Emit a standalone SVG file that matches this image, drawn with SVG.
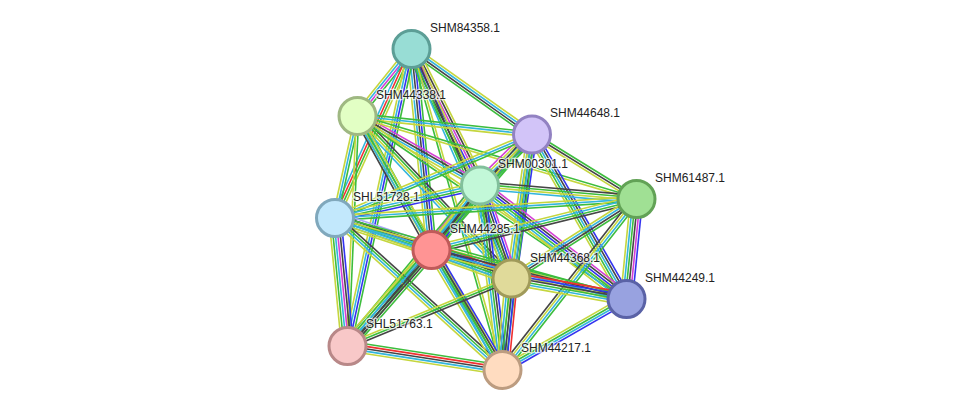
<svg xmlns="http://www.w3.org/2000/svg" width="976" height="415" viewBox="0 0 976 415">
<style>
#edges line{stroke-width:1.6;fill:none}
.n{stroke:#3dbd3d}.t{stroke:#c5d63e}.d{stroke:#33b5dd}.x{stroke:#454545}.e{stroke:#d540d5}.c{stroke:#3333f0}.f{stroke:#f03030}.h{stroke:#a8a8f8}
.node circle{stroke-width:3}
.node text{font-family:"Liberation Sans",Arial,sans-serif;font-size:12px;fill:#222;stroke:#fff;stroke-width:2.5;stroke-opacity:0.7;paint-order:stroke}
</style>
<rect width="976" height="415" fill="#fff"/>
<g id="edges">
<g transform="translate(411.5 49) rotate(128.87)"><line x2="86" y1="-3.6" y2="-3.6" class="n"/><line x2="86" y1="-1.2" y2="-1.2" class="e"/><line x2="86" y1="1.2" y2="1.2" class="d"/><line x2="86" y1="3.6" y2="3.6" class="t"/></g>
<g transform="translate(411.5 49) rotate(35.36)"><line x2="148" y1="-3.6" y2="-3.6" class="t"/><line x2="148" y1="-1.2" y2="-1.2" class="d"/><line x2="148" y1="1.2" y2="1.2" class="x"/><line x2="148" y1="3.6" y2="3.6" class="n"/></g>
<g transform="translate(411.5 49) rotate(63.35)"><line x2="153" y1="-6" y2="-6" class="t"/><line x2="153" y1="-3.6" y2="-3.6" class="x"/><line x2="153" y1="-1.2" y2="-1.2" class="e"/><line x2="153" y1="1.2" y2="1.2" class="c"/><line x2="153" y1="3.6" y2="3.6" class="x"/><line x2="153" y1="6" y2="6" class="n"/></g>
<g transform="translate(411.5 49) rotate(114.35)"><line x2="186" y1="-3.6" y2="-3.6" class="t"/><line x2="186" y1="-1.2" y2="-1.2" class="n"/><line x2="186" y1="1.2" y2="1.2" class="f"/><line x2="186" y1="3.6" y2="3.6" class="d"/></g>
<g transform="translate(411.5 49) rotate(84.32)"><line x2="202" y1="-4.8" y2="-4.8" class="n"/><line x2="202" y1="-2.4" y2="-2.4" class="c"/><line x2="202" y1="0" y2="0" class="x"/><line x2="202" y1="2.4" y2="2.4" class="d"/><line x2="202" y1="4.8" y2="4.8" class="t"/></g>
<g transform="translate(411.5 49) rotate(66.46)"><line x2="250" y1="-3.6" y2="-3.6" class="t"/><line x2="250" y1="-1.2" y2="-1.2" class="x"/><line x2="250" y1="1.2" y2="1.2" class="n"/><line x2="250" y1="3.6" y2="3.6" class="d"/></g>
<g transform="translate(411.5 49) rotate(102.16)"><line x2="304" y1="-3.6" y2="-3.6" class="n"/><line x2="304" y1="-1.2" y2="-1.2" class="c"/><line x2="304" y1="1.2" y2="1.2" class="d"/><line x2="304" y1="3.6" y2="3.6" class="t"/></g>
<g transform="translate(411.5 49) rotate(74.17)"><line x2="334" y1="-1.2" y2="-1.2" class="t"/><line x2="334" y1="1.2" y2="1.2" class="n"/></g>
<g transform="translate(357.5 116) rotate(6.05)"><line x2="175" y1="-2.4" y2="-2.4" class="n"/><line x2="175" y1="0" y2="0" class="d"/><line x2="175" y1="2.4" y2="2.4" class="t"/></g>
<g transform="translate(357.5 116) rotate(29.57)"><line x2="141" y1="-3.6" y2="-3.6" class="e"/><line x2="141" y1="-1.2" y2="-1.2" class="x"/><line x2="141" y1="1.2" y2="1.2" class="d"/><line x2="141" y1="3.6" y2="3.6" class="t"/></g>
<g transform="translate(357.5 116) rotate(16.57)"><line x2="291" y1="-1.2" y2="-1.2" class="n"/><line x2="291" y1="1.2" y2="1.2" class="t"/></g>
<g transform="translate(357.5 116) rotate(102.44)"><line x2="104" y1="-2.4" y2="-2.4" class="n"/><line x2="104" y1="0" y2="0" class="d"/><line x2="104" y1="2.4" y2="2.4" class="t"/></g>
<g transform="translate(357.5 116) rotate(61.09)"><line x2="153" y1="-3.6" y2="-3.6" class="n"/><line x2="153" y1="-1.2" y2="-1.2" class="d"/><line x2="153" y1="1.2" y2="1.2" class="t"/><line x2="153" y1="3.6" y2="3.6" class="x"/></g>
<g transform="translate(357.5 116) rotate(46.54)"><line x2="224" y1="-3.6" y2="-3.6" class="x"/><line x2="224" y1="-1.2" y2="-1.2" class="n"/><line x2="224" y1="1.2" y2="1.2" class="t"/><line x2="224" y1="3.6" y2="3.6" class="d"/></g>
<g transform="translate(357.5 116) rotate(34.23)"><line x2="325" y1="-1.2" y2="-1.2" class="t"/><line x2="325" y1="1.2" y2="1.2" class="n"/></g>
<g transform="translate(357.5 116) rotate(92.49)"><line x2="230" y1="-1.2" y2="-1.2" class="n"/><line x2="230" y1="1.2" y2="1.2" class="t"/></g>
<g transform="translate(357.5 116) rotate(60.28)"><line x2="292" y1="-2.4" y2="-2.4" class="t"/><line x2="292" y1="0" y2="0" class="n"/><line x2="292" y1="2.4" y2="2.4" class="d"/></g>
<g transform="translate(532 134.5) rotate(135.56)"><line x2="73" y1="-6" y2="-6" class="n"/><line x2="73" y1="-3.6" y2="-3.6" class="c"/><line x2="73" y1="-1.2" y2="-1.2" class="x"/><line x2="73" y1="1.2" y2="1.2" class="d"/><line x2="73" y1="3.6" y2="3.6" class="t"/><line x2="73" y1="6" y2="6" class="e"/></g>
<g transform="translate(532 134.5) rotate(31.68)"><line x2="123" y1="-2.4" y2="-2.4" class="n"/><line x2="123" y1="0" y2="0" class="x"/><line x2="123" y1="2.4" y2="2.4" class="t"/></g>
<g transform="translate(532 134.5) rotate(157.03)"><line x2="214" y1="-2.4" y2="-2.4" class="n"/><line x2="214" y1="0" y2="0" class="d"/><line x2="214" y1="2.4" y2="2.4" class="t"/></g>
<g transform="translate(532 134.5) rotate(131.03)"><line x2="153" y1="-3.6" y2="-3.6" class="n"/><line x2="153" y1="-1.2" y2="-1.2" class="d"/><line x2="153" y1="1.2" y2="1.2" class="t"/><line x2="153" y1="3.6" y2="3.6" class="x"/></g>
<g transform="translate(532 134.5) rotate(98.10)"><line x2="145" y1="-4.8" y2="-4.8" class="c"/><line x2="145" y1="-2.4" y2="-2.4" class="x"/><line x2="145" y1="0" y2="0" class="n"/><line x2="145" y1="2.4" y2="2.4" class="d"/><line x2="145" y1="4.8" y2="4.8" class="t"/></g>
<g transform="translate(532 134.5) rotate(60.12)"><line x2="190" y1="-4.8" y2="-4.8" class="c"/><line x2="190" y1="-2.4" y2="-2.4" class="x"/><line x2="190" y1="0" y2="0" class="d"/><line x2="190" y1="2.4" y2="2.4" class="n"/><line x2="190" y1="4.8" y2="4.8" class="t"/></g>
<g transform="translate(532 134.5) rotate(131.10)"><line x2="281" y1="-1.2" y2="-1.2" class="n"/><line x2="281" y1="1.2" y2="1.2" class="t"/></g>
<g transform="translate(532 134.5) rotate(97.14)"><line x2="237" y1="-2.4" y2="-2.4" class="n"/><line x2="237" y1="0" y2="0" class="d"/><line x2="237" y1="2.4" y2="2.4" class="t"/></g>
<g transform="translate(480 185.5) rotate(4.93)"><line x2="157" y1="-3.6" y2="-3.6" class="x"/><line x2="157" y1="-1.2" y2="-1.2" class="n"/><line x2="157" y1="1.2" y2="1.2" class="t"/><line x2="157" y1="3.6" y2="3.6" class="d"/></g>
<g transform="translate(480 185.5) rotate(167.37)"><line x2="149" y1="-3.6" y2="-3.6" class="c"/><line x2="149" y1="-1.2" y2="-1.2" class="n"/><line x2="149" y1="1.2" y2="1.2" class="d"/><line x2="149" y1="3.6" y2="3.6" class="t"/></g>
<g transform="translate(480 185.5) rotate(126.94)"><line x2="81" y1="-6" y2="-6" class="n"/><line x2="81" y1="-3.6" y2="-3.6" class="c"/><line x2="81" y1="-1.2" y2="-1.2" class="x"/><line x2="81" y1="1.2" y2="1.2" class="d"/><line x2="81" y1="3.6" y2="3.6" class="t"/><line x2="81" y1="6" y2="6" class="e"/></g>
<g transform="translate(480 185.5) rotate(71.29)"><line x2="98" y1="-6" y2="-6" class="e"/><line x2="98" y1="-3.6" y2="-3.6" class="c"/><line x2="98" y1="-1.2" y2="-1.2" class="x"/><line x2="98" y1="1.2" y2="1.2" class="n"/><line x2="98" y1="3.6" y2="3.6" class="d"/><line x2="98" y1="6" y2="6" class="t"/></g>
<g transform="translate(480 185.5) rotate(37.77)"><line x2="185" y1="-6" y2="-6" class="e"/><line x2="185" y1="-3.6" y2="-3.6" class="x"/><line x2="185" y1="-1.2" y2="-1.2" class="c"/><line x2="185" y1="1.2" y2="1.2" class="n"/><line x2="185" y1="3.6" y2="3.6" class="d"/><line x2="185" y1="6" y2="6" class="t"/></g>
<g transform="translate(480 185.5) rotate(129.55)"><line x2="208" y1="-4.8" y2="-4.8" class="n"/><line x2="208" y1="-2.4" y2="-2.4" class="x"/><line x2="208" y1="0" y2="0" class="d"/><line x2="208" y1="2.4" y2="2.4" class="t"/><line x2="208" y1="4.8" y2="4.8" class="n"/></g>
<g transform="translate(480 185.5) rotate(83.05)"><line x2="186" y1="-4.8" y2="-4.8" class="c"/><line x2="186" y1="-2.4" y2="-2.4" class="x"/><line x2="186" y1="0" y2="0" class="n"/><line x2="186" y1="2.4" y2="2.4" class="d"/><line x2="186" y1="4.8" y2="4.8" class="t"/></g>
<g transform="translate(636.5 199) rotate(176.39)"><line x2="302" y1="-2.4" y2="-2.4" class="n"/><line x2="302" y1="0" y2="0" class="d"/><line x2="302" y1="2.4" y2="2.4" class="t"/></g>
<g transform="translate(636.5 199) rotate(166.03)"><line x2="211" y1="-3.6" y2="-3.6" class="x"/><line x2="211" y1="-1.2" y2="-1.2" class="n"/><line x2="211" y1="1.2" y2="1.2" class="d"/><line x2="211" y1="3.6" y2="3.6" class="t"/></g>
<g transform="translate(636.5 199) rotate(147.54)"><line x2="148" y1="-3.6" y2="-3.6" class="n"/><line x2="148" y1="-1.2" y2="-1.2" class="x"/><line x2="148" y1="1.2" y2="1.2" class="d"/><line x2="148" y1="3.6" y2="3.6" class="t"/></g>
<g transform="translate(636.5 199) rotate(95.71)"><line x2="100" y1="-6" y2="-6" class="c"/><line x2="100" y1="-3.6" y2="-3.6" class="e"/><line x2="100" y1="-1.2" y2="-1.2" class="x"/><line x2="100" y1="1.2" y2="1.2" class="n"/><line x2="100" y1="3.6" y2="3.6" class="d"/><line x2="100" y1="6" y2="6" class="t"/></g>
<g transform="translate(636.5 199) rotate(128.08)"><line x2="217" y1="-3.6" y2="-3.6" class="n"/><line x2="217" y1="-1.2" y2="-1.2" class="d"/><line x2="217" y1="1.2" y2="1.2" class="t"/><line x2="217" y1="3.6" y2="3.6" class="x"/></g>
<g transform="translate(335 218) rotate(18.35)"><line x2="102" y1="-6" y2="-6" class="h"/><line x2="102" y1="-3.6" y2="-3.6" class="x"/><line x2="102" y1="-1.2" y2="-1.2" class="c"/><line x2="102" y1="1.2" y2="1.2" class="n"/><line x2="102" y1="3.6" y2="3.6" class="d"/><line x2="102" y1="6" y2="6" class="t"/></g>
<g transform="translate(335 218) rotate(18.92)"><line x2="187" y1="-3.6" y2="-3.6" class="x"/><line x2="187" y1="-1.2" y2="-1.2" class="n"/><line x2="187" y1="1.2" y2="1.2" class="d"/><line x2="187" y1="3.6" y2="3.6" class="t"/></g>
<g transform="translate(335 218) rotate(15.53)"><line x2="302" y1="-2.4" y2="-2.4" class="n"/><line x2="302" y1="0" y2="0" class="t"/><line x2="302" y1="2.4" y2="2.4" class="d"/></g>
<g transform="translate(335 218) rotate(84.42)"><line x2="129" y1="-6" y2="-6" class="c"/><line x2="129" y1="-3.6" y2="-3.6" class="x"/><line x2="129" y1="-1.2" y2="-1.2" class="e"/><line x2="129" y1="1.2" y2="1.2" class="d"/><line x2="129" y1="3.6" y2="3.6" class="n"/><line x2="129" y1="6" y2="6" class="t"/></g>
<g transform="translate(335 218) rotate(42.22)"><line x2="226" y1="-3.6" y2="-3.6" class="x"/><line x2="226" y1="-1.2" y2="-1.2" class="n"/><line x2="226" y1="1.2" y2="1.2" class="d"/><line x2="226" y1="3.6" y2="3.6" class="t"/></g>
<g transform="translate(431.5 250) rotate(19.61)"><line x2="85" y1="-6" y2="-6" class="f"/><line x2="85" y1="-3.6" y2="-3.6" class="c"/><line x2="85" y1="-1.2" y2="-1.2" class="x"/><line x2="85" y1="1.2" y2="1.2" class="n"/><line x2="85" y1="3.6" y2="3.6" class="d"/><line x2="85" y1="6" y2="6" class="t"/></g>
<g transform="translate(431.5 250) rotate(14.11)"><line x2="201" y1="-3.6" y2="-3.6" class="n"/><line x2="201" y1="-1.2" y2="-1.2" class="x"/><line x2="201" y1="1.2" y2="1.2" class="d"/><line x2="201" y1="3.6" y2="3.6" class="t"/></g>
<g transform="translate(431.5 250) rotate(131.19)"><line x2="128" y1="-6" y2="-6" class="n"/><line x2="128" y1="-3.6" y2="-3.6" class="x"/><line x2="128" y1="-1.2" y2="-1.2" class="x"/><line x2="128" y1="1.2" y2="1.2" class="d"/><line x2="128" y1="3.6" y2="3.6" class="n"/><line x2="128" y1="6" y2="6" class="t"/></g>
<g transform="translate(431.5 250) rotate(59.39)"><line x2="139" y1="-4.8" y2="-4.8" class="c"/><line x2="139" y1="-2.4" y2="-2.4" class="x"/><line x2="139" y1="0" y2="0" class="n"/><line x2="139" y1="2.4" y2="2.4" class="d"/><line x2="139" y1="4.8" y2="4.8" class="t"/></g>
<g transform="translate(511.5 278.5) rotate(10.11)"><line x2="117" y1="-6" y2="-6" class="f"/><line x2="117" y1="-3.6" y2="-3.6" class="c"/><line x2="117" y1="-1.2" y2="-1.2" class="x"/><line x2="117" y1="1.2" y2="1.2" class="n"/><line x2="117" y1="3.6" y2="3.6" class="d"/><line x2="117" y1="6" y2="6" class="t"/></g>
<g transform="translate(511.5 278.5) rotate(157.63)"><line x2="177" y1="-2.4" y2="-2.4" class="x"/><line x2="177" y1="0" y2="0" class="n"/><line x2="177" y1="2.4" y2="2.4" class="t"/></g>
<g transform="translate(511.5 278.5) rotate(95.62)"><line x2="92" y1="-6" y2="-6" class="f"/><line x2="92" y1="-3.6" y2="-3.6" class="c"/><line x2="92" y1="-1.2" y2="-1.2" class="x"/><line x2="92" y1="1.2" y2="1.2" class="n"/><line x2="92" y1="3.6" y2="3.6" class="d"/><line x2="92" y1="6" y2="6" class="t"/></g>
<g transform="translate(626.5 299) rotate(150.20)"><line x2="143" y1="-3.6" y2="-3.6" class="c"/><line x2="143" y1="-1.2" y2="-1.2" class="d"/><line x2="143" y1="1.2" y2="1.2" class="n"/><line x2="143" y1="3.6" y2="3.6" class="t"/></g>
<g transform="translate(347.5 346) rotate(8.80)"><line x2="157" y1="-4.8" y2="-4.8" class="n"/><line x2="157" y1="-2.4" y2="-2.4" class="f"/><line x2="157" y1="0" y2="0" class="x"/><line x2="157" y1="2.4" y2="2.4" class="d"/><line x2="157" y1="4.8" y2="4.8" class="t"/></g>
</g>
<g id="node-SHM84358.1" class="node"><circle cx="411.5" cy="49" r="18.5" fill="#98ddd5" stroke="#5c9e96"/><text x="430" y="32">SHM84358.1</text></g>
<g id="node-SHM44338.1" class="node"><circle cx="357.5" cy="116" r="18.5" fill="#e2ffc4" stroke="#9fb882"/><text x="376" y="99">SHM44338.1</text></g>
<g id="node-SHM44648.1" class="node"><circle cx="532" cy="134.5" r="18.5" fill="#d2c4f8" stroke="#9282c2"/><text x="550" y="117">SHM44648.1</text></g>
<g id="node-SHM00301.1" class="node"><circle cx="480" cy="185.5" r="18.5" fill="#c2f8d8" stroke="#82c09c"/><text x="498" y="168">SHM00301.1</text></g>
<g id="node-SHM61487.1" class="node"><circle cx="636.5" cy="199" r="18.5" fill="#a0e094" stroke="#62a256"/><text x="655" y="182">SHM61487.1</text></g>
<g id="node-SHL51728.1" class="node"><circle cx="335" cy="218" r="18.5" fill="#c2e8fc" stroke="#80a8bc"/><text x="353" y="201">SHL51728.1</text></g>
<g id="node-SHM44285.1" class="node"><circle cx="431.5" cy="250" r="18.5" fill="#ff9494" stroke="#c05a5a"/><text x="450" y="233">SHM44285.1</text></g>
<g id="node-SHM44368.1" class="node"><circle cx="511.5" cy="278.5" r="18.5" fill="#e0da9a" stroke="#a09a5a"/><text x="530" y="262">SHM44368.1</text></g>
<g id="node-SHM44249.1" class="node"><circle cx="626.5" cy="299" r="18.5" fill="#98a2e0" stroke="#5a62a6"/><text x="645" y="282">SHM44249.1</text></g>
<g id="node-SHL51763.1" class="node"><circle cx="347.5" cy="346" r="18.5" fill="#f8c8c8" stroke="#b88888"/><text x="366" y="328">SHL51763.1</text></g>
<g id="node-SHM44217.1" class="node"><circle cx="502.5" cy="370" r="18.5" fill="#ffdcc0" stroke="#bc9c80"/><text x="521" y="352">SHM44217.1</text></g>
</svg>
